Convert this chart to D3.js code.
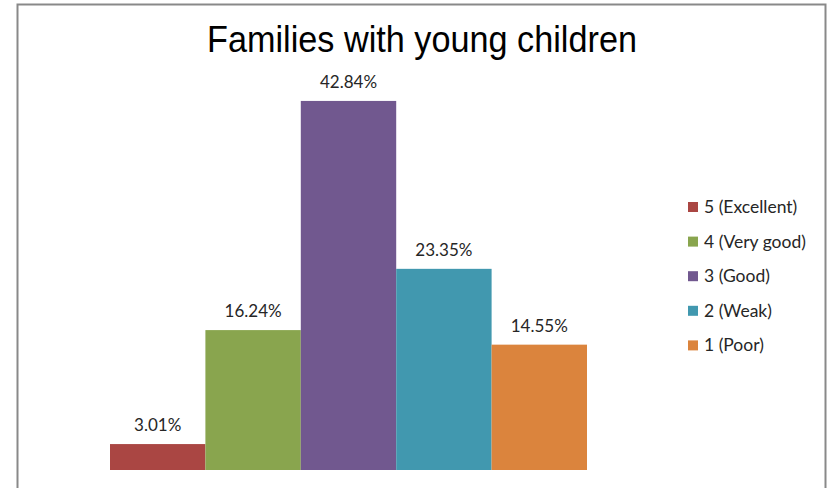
<!DOCTYPE html>
<html><head><meta charset="utf-8">
<script src="https://cdn.jsdelivr.net/npm/d3@7"></script>
<style>body{margin:0;background:#fff}svg{display:block}</style>
</head><body><svg width="829" height="488"></svg>
<script>
const categories = ["5 (Excellent)", "4 (Very good)", "3 (Good)", "2 (Weak)", "1 (Poor)"];
const values = [3.01, 16.24, 42.84, 23.35, 14.55];
const labels = ["3.01%", "16.24%", "42.84%", "23.35%", "14.55%"];
const colors = ["#AA4643", "#89A54E", "#71588F", "#4198AF", "#DB843D"];
const title = "Families with young children";

const svg = d3.select("svg");
// frame
svg.append("rect").attr("x",17.5).attr("y",4.5).attr("width",808).attr("height",490)
  .attr("fill","#fff").attr("stroke","#898989").attr("stroke-width",2);

svg.append("text").attr("x",422).attr("y",52).attr("text-anchor","middle")
  .attr("font-family","'Liberation Sans', Arial, sans-serif")
  .attr("font-size",37).attr("fill","#000")
  .attr("textLength",430).attr("lengthAdjust","spacingAndGlyphs").text(title);

const x = d3.scaleBand().domain(categories).range([110,587]).padding(0);
const y = d3.scaleLinear().domain([0,50]).range([470, 39.25]);

svg.selectAll("rect.bar").data(values).join("rect").attr("class","bar")
  .attr("x",(d,i)=>x(categories[i])).attr("width",x.bandwidth())
  .attr("y",d=>y(d)).attr("height",d=>y(0)-y(d))
  .attr("fill",(d,i)=>colors[i]);

svg.selectAll("text.lbl").data(values).join("text").attr("class","lbl")
  .attr("x",(d,i)=>x(categories[i])+x.bandwidth()/2)
  .attr("y",d=>y(d)-13).attr("text-anchor","middle")
  .attr("font-family","Lato, 'Open Sans', sans-serif").attr("font-size",17)
  .attr("fill","#262626").text((d,i)=>labels[i]);

const lg = svg.append("g");
categories.forEach((c,i)=>{
  const cy = 207 + i*34.6;
  lg.append("rect").attr("x",688).attr("y",cy-5).attr("width",10).attr("height",10).attr("fill",colors[i]);
  lg.append("text").attr("x",704).attr("y",cy+6)
    .attr("font-family","Lato, 'Open Sans', sans-serif").attr("font-size",17.5)
    .attr("fill","#262626").text(c);
});
</script></body></html>
